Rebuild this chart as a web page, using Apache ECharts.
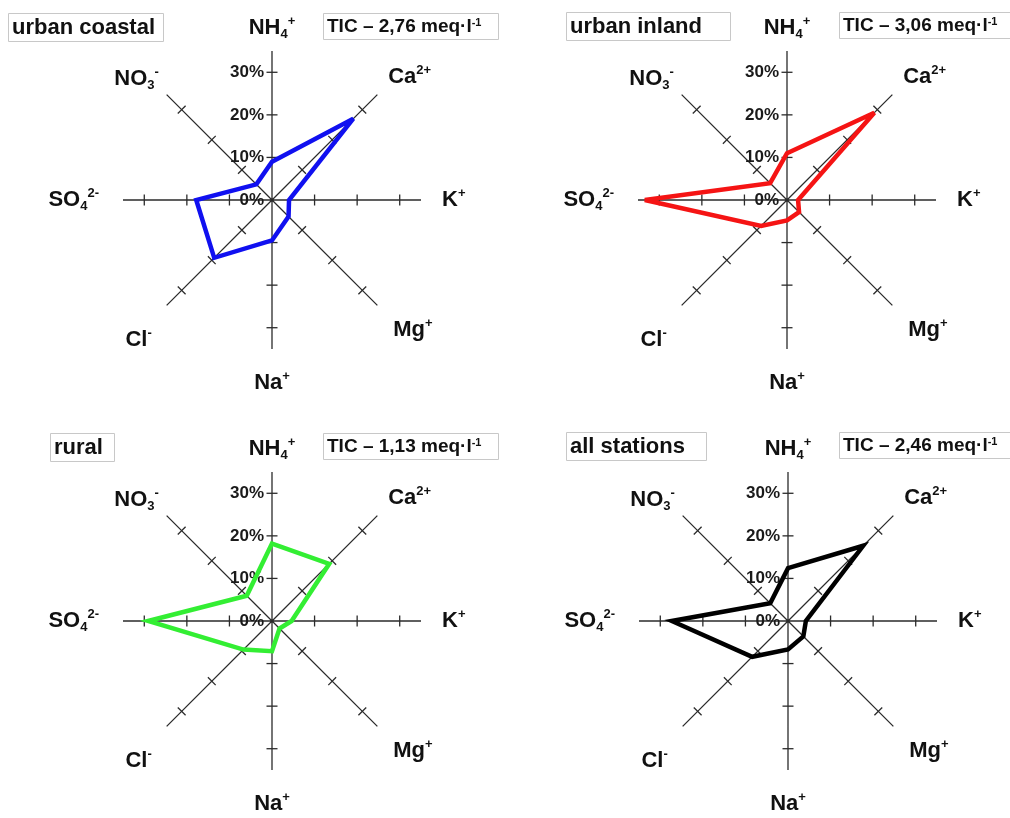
<!DOCTYPE html>
<html><head><meta charset="utf-8">
<script src="https://cdn.jsdelivr.net/npm/echarts@6/dist/echarts.min.js"></script>
<style>html,body{margin:0;padding:0;background:#fff}#c{width:1010px;height:818px}</style>
</head><body><div id="c"></div>
<script>
// ---- data ----
const ions = ['NH4+', 'Ca2+', 'K+', 'Mg+', 'Na+', 'Cl-', 'SO42-', 'NO3-'];
const ionLabels = ['{b|NH}{sub|4}{sup|+}', '{b|Ca}{sup|2+}', '{b|K}{sup|+}', '{b|Mg}{sup|+}',
                   '{b|Na}{sup|+}', '{b|Cl}{sup|-}', '{b|SO}{sub|4}{sup|2-}', '{b|NO}{sub|3}{sup|-}'];
const tickValues = [10, 20, 30];
const panelNames = ['urban coastal', 'urban inland', 'rural', 'all stations'];
const ticValues = ['2,76', '3,06', '1,13', '2,46'];
const urbanCoastal = [9, 27, 4, 5.5, 9.5, 19.2, 17.8, 5.2];
const urbanInland = [11, 29, 2.6, 4, 4.8, 8.6, 33.4, 5.6];
const rural = [18.2, 19, 4.6, 2.5, 7.1, 9.5, 29.1, 8.4];
const allStations = [12.4, 25, 4.2, 5.1, 6.7, 11.9, 27.3, 5.9];
const seriesValues = [urbanCoastal, urbanInland, rural, allStations];
const axisMax = 35;

// ---- layout / style ----
const colors = ['#1010f0', '#f51414', '#33ee33', '#000000'];
const centers = [[272, 200], [787, 200], [272, 621], [788, 621]];
const R = 149;
const FONT = 'Liberation Sans, Arial, sans-serif';
const nameBoxes = [[8, 13], [566, 12], [50, 433], [566, 432]];
const namePadRight = [9, 29, 12, 22];
const ticBoxes = [[323, 13], [839, 12], [323, 433], [839, 432]];
const labelPads = [[0, 0, 6, 0], [0, 0, 2, 8], [0, 0, 0, 17], [9, 0, 0, 13],
                   [17, 0, 0, 0], [19, 12, 0, 0], [0, 20, 0, 0], [0, 5, 0, 0]];
const axisColor = '#2b2b2b';

const chart = echarts.init(document.getElementById('c'));
const polar = [], angleAxis = [], radiusAxis = [], series = [], title = [];

const tickData = [];
ions.forEach((_, i) => tickValues.forEach(t => tickData.push([t, i])));
const angleData = ions.map((name, i) => ({ value: name, textStyle: { padding: labelPads[i] } }));

for (let k = 0; k < 4; k++) {
  polar.push({ center: centers[k], radius: R });
  angleAxis.push({
    polarIndex: k, type: 'category', data: angleData, startAngle: 90, clockwise: true, boundaryGap: false,
    axisLine: { show: false }, axisTick: { show: false },
    splitLine: { show: true, lineStyle: { color: axisColor, width: 1.3 } },
    axisLabel: {
      margin: 4, formatter: (v, i) => ionLabels[i],
      rich: {
        b: { fontSize: 22, fontWeight: 'bold', fontFamily: FONT, color: '#111', lineHeight: 26 },
        sub: { fontSize: 13, fontWeight: 'bold', fontFamily: FONT, color: '#111', verticalAlign: 'bottom', lineHeight: 26 },
        sup: { fontSize: 13, fontWeight: 'bold', fontFamily: FONT, color: '#111', verticalAlign: 'top', lineHeight: 26 }
      }
    }
  });
  radiusAxis.push({
    polarIndex: k, type: 'value', min: 0, max: axisMax, interval: 10,
    axisLine: { show: false }, axisTick: { show: false }, splitLine: { show: false },
    axisLabel: {
      margin: 8, fontSize: 17, fontWeight: 'bold', fontFamily: FONT, color: '#1a1a1a',
      formatter: v => (v > tickValues[tickValues.length - 1] ? '' : v + '%')
    }
  });
  series.push({
    type: 'custom', coordinateSystem: 'polar', polarIndex: k, silent: true, data: tickData, z: 3,
    renderItem: (params, api) => {
      const p = api.coord([api.value(0), api.value(1)]);
      const cs = params.coordSys;
      const dx = p[0] - cs.cx, dy = p[1] - cs.cy, len = Math.hypot(dx, dy);
      const nx = -dy / len * 5.5, ny = dx / len * 5.5;
      return { type: 'line', shape: { x1: p[0] - nx, y1: p[1] - ny, x2: p[0] + nx, y2: p[1] + ny },
               style: { stroke: axisColor, lineWidth: 1.3 } };
    }
  });
  const vals = seriesValues[k];
  series.push({
    type: 'custom', coordinateSystem: 'polar', polarIndex: k, silent: true, z: 5,
    data: vals.map((v, i) => [v, i]),
    renderItem: (params, api) => {
      if (params.dataIndex !== 0) return null;
      const pts = [];
      for (let i = 0; i < params.dataInsideLength; i++) {
        pts.push(api.coord([api.value(0, i), api.value(1, i)]));
      }
      return { type: 'polygon', shape: { points: pts },
               style: { fill: null, stroke: colors[k], lineWidth: 4.5, lineJoin: 'miter', miterLimit: 4 } };
    }
  });
  title.push({
    text: panelNames[k], left: nameBoxes[k][0], top: nameBoxes[k][1],
    padding: [3, namePadRight[k], 3, 4], borderWidth: 1, borderColor: '#c8c8c8',
    textStyle: { fontSize: 22, fontWeight: 'bold', fontFamily: FONT, color: '#111', lineHeight: 23 }
  });
  title.push({
    text: '{t|TIC – ' + ticValues[k] + ' meq·l}{s|-1}', left: ticBoxes[k][0], top: ticBoxes[k][1],
    padding: [4, 17, 3, 4], borderWidth: 1, borderColor: '#c8c8c8',
    textStyle: {
      rich: {
        t: { fontSize: 19, fontWeight: 'bold', fontFamily: FONT, color: '#111', lineHeight: 20 },
        s: { fontSize: 11, fontWeight: 'bold', fontFamily: FONT, color: '#111', verticalAlign: 'top', lineHeight: 20 }
      }
    }
  });
}

chart.setOption({ backgroundColor: '#ffffff', animation: false, title, polar, angleAxis, radiusAxis, series });
</script></body></html>
